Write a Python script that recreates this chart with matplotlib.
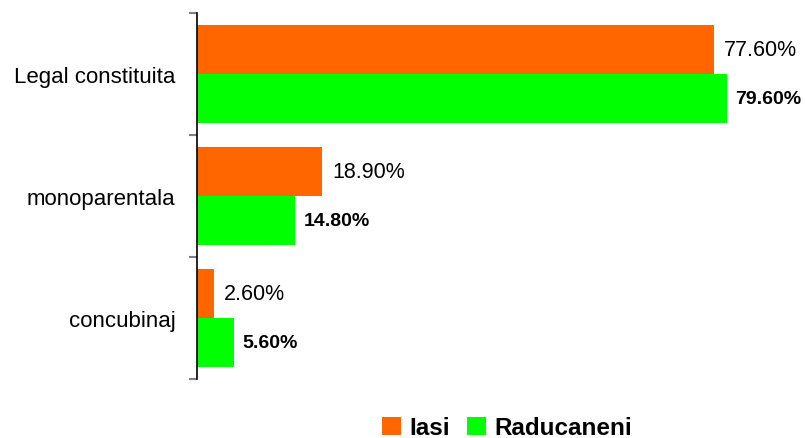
import numpy as np
import matplotlib
matplotlib.use('Agg')
from matplotlib import pyplot as plt
from matplotlib.patches import Patch

plt.rcParams['font.family'] = ['Liberation Sans', 'DejaVu Sans']

# date
categorii = ['Legal constituita', 'monoparentala', 'concubinaj']
iasi = [77.6, 18.9, 2.6]
raducaneni = [79.6, 14.8, 5.6]
serii = ['Iasi', 'Raducaneni']
culori = ['#FF6600', '#00FF00']

fig = plt.figure(figsize=(8.05, 4.39), dpi=100)
ax = fig.add_axes([0.2441, 0.1344, 0.7453, 0.8337])

n = len(categorii)
y = np.arange(n)[::-1]  # prima categorie sus
h = 0.4

ax.barh(y + h / 2, iasi, height=h, color=culori[0])
ax.barh(y - h / 2, raducaneni, height=h, color=culori[1])

for yi, v in zip(y, iasi):
    ax.annotate(f'{v:.2f}%', (v, yi + h / 2), xytext=(7, 0), textcoords='offset points',
                va='center', ha='left', fontsize=15.5)
for yi, v in zip(y, raducaneni):
    ax.annotate(f'{v:.2f}%', (v, yi - h / 2), xytext=(6, 0), textcoords='offset points',
                va='center', ha='left', fontsize=14, fontweight='bold')

ax.set_xlim(0, 90)
ax.set_ylim(-0.5, n - 0.5)

# ticks la limitele categoriilor, etichete la centru
ax.set_yticks(np.arange(n + 1) - 0.5)
ax.set_yticklabels([])
ax.set_yticks(y, minor=True)
ax.set_yticklabels(categorii, minor=True, fontsize=16)
ax.tick_params(axis='y', which='major', length=6, width=1.5, color='#808080', direction='out')
ax.tick_params(axis='y', which='minor', length=0, pad=15)
ax.set_xticks([])

for s in ['top', 'right', 'bottom']:
    ax.spines[s].set_visible(False)
ax.spines['left'].set_color('black')
ax.spines['left'].set_linewidth(1.2)

handles = [Patch(facecolor=c, edgecolor='none') for c in culori]
fig.legend(handles, serii, loc='center', bbox_to_anchor=(0.63, 0.023), ncol=2, frameon=False,
           prop={'size': 17.5, 'weight': 'bold'}, handlelength=0.78, handleheight=0.78,
           handletextpad=0.33, columnspacing=0.7, borderpad=0)

fig.savefig('out.png', dpi=100)
